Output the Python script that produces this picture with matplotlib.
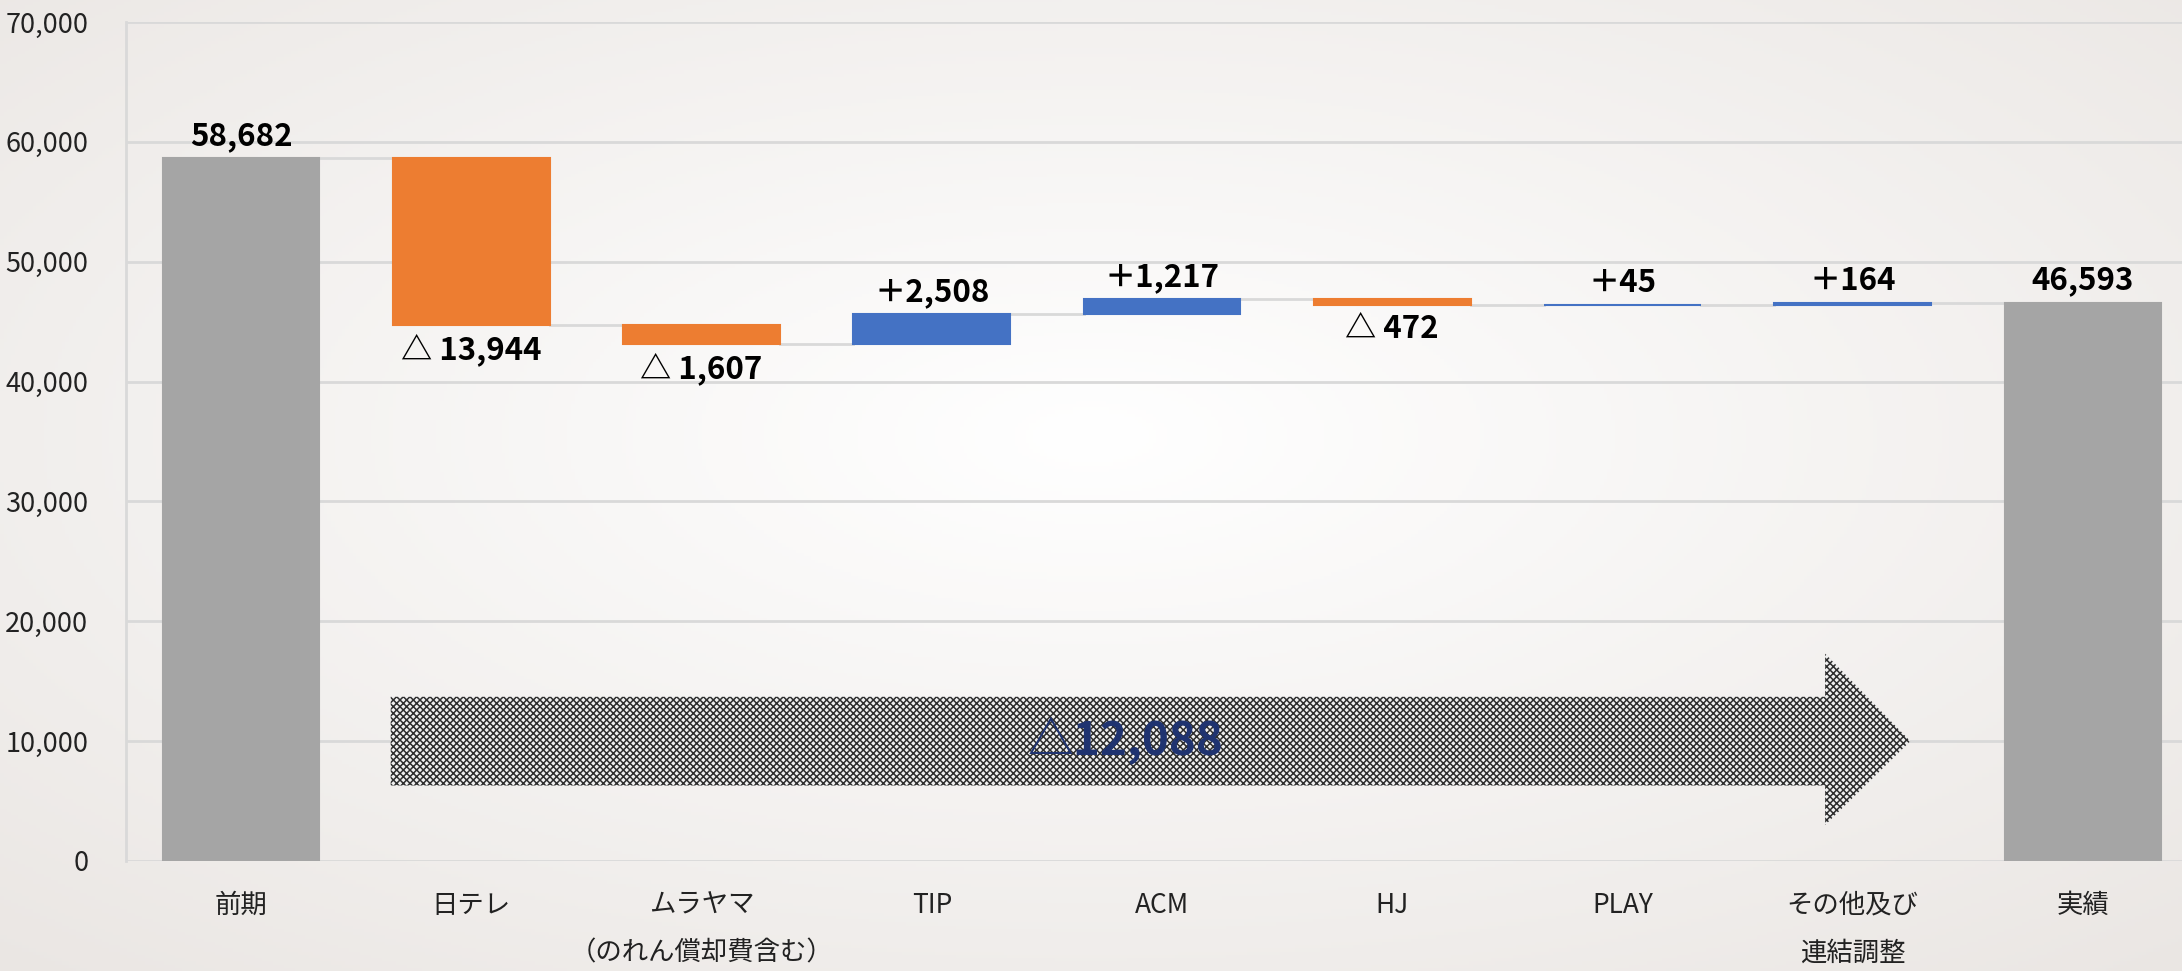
import numpy as np
import matplotlib
matplotlib.use('Agg')
import matplotlib.pyplot as plt
from matplotlib.patches import Polygon
from matplotlib.ticker import FuncFormatter

plt.rcParams['font.family'] = ['Noto Sans CJK JP', 'DejaVu Sans']
plt.rcParams['hatch.linewidth'] = 1.1

# ---- data ----
categories = ['前期', '日テレ', 'ムラヤマ\n（のれん償却費含む）', 'TIP', 'ACM', 'HJ', 'PLAY',
              'その他及び\n連結調整', '実績']
start_total = 58682
changes = [-13944, -1607, 2508, 1217, -472, 45, 164]
end_total = 46593
total_change_label = '△12,088'

c_total = '#A5A5A5'
c_down = '#ED7D31'
c_up = '#4472C4'

# waterfall geometry from the values
levels = [start_total]
for d in changes:
    levels.append(levels[-1] + d)
bottoms = [0] + [min(levels[i], levels[i + 1]) for i in range(len(changes))] + [0]
heights = [start_total] + [abs(d) for d in changes] + [end_total]
colors = [c_total] + [c_up if d > 0 else c_down for d in changes] + [c_total]
x = np.arange(len(categories))
w = 0.68

fig = plt.figure(figsize=(21.82, 9.71), dpi=100)

# soft radial background
bg = fig.add_axes([0, 0, 1, 1], zorder=0)
yy, xx = np.mgrid[0:1:300j, 0:1:600j]
r = np.sqrt(((xx - 0.5) / 0.75) ** 2 + ((yy - 0.45) / 0.75) ** 2)
r = np.clip(r, 0, 1)
edge = np.array([0.918, 0.902, 0.890])
img = (1 - r[..., None]) * np.array([1.0, 1.0, 1.0]) + r[..., None] * edge
bg.imshow(img, aspect='auto', extent=[0, 1, 0, 1])
bg.axis('off')

ax = fig.add_axes([0.0577, 0.1133, 0.9423, 0.864], zorder=1)
ax.patch.set_alpha(0)

ax.bar(x, heights, bottom=bottoms, width=w, color=colors, edgecolor=colors,
       linewidth=1.5, zorder=3)

# connectors
for i in range(len(categories) - 1):
    lvl = levels[i] if i < len(levels) else end_total
    ax.plot([x[i] + w / 2, x[i + 1] - w / 2], [lvl, lvl], color='#D9D9D9', lw=2, zorder=2)

# labels
ax.text(x[0], start_total + 500, f'{start_total:,}', ha='center', va='bottom',
        fontsize=22.5, fontweight='bold', zorder=4)
ax.text(x[-1], end_total + 500, f'{end_total:,}', ha='center', va='bottom',
        fontsize=22.5, fontweight='bold', zorder=4)
for i, d in enumerate(changes):
    xi = x[i + 1]
    if d < 0:
        ax.text(xi, bottoms[i + 1] - 700, f'△ {abs(d):,}', ha='center', va='top',
                fontsize=22.5, fontweight='bold', zorder=4)
    else:
        ax.text(xi, bottoms[i + 1] + heights[i + 1] + 500, f'＋{d:,}', ha='center', va='bottom',
                fontsize=22.5, fontweight='bold', zorder=4)

# overall-change arrow
tail, neck, tip = 0.65, 6.88, 7.25
body_lo, body_hi, head_lo, head_hi, mid = 6300, 13700, 3000, 17300, 10000
arrow = Polygon([(tail, body_lo), (neck, body_lo), (neck, head_lo), (tip, mid),
                 (neck, head_hi), (neck, body_hi), (tail, body_hi)],
                closed=True, facecolor='#F0F0F0', edgecolor='#2E2E2E', lw=0,
                hatch='xxxxx', zorder=3)
ax.add_patch(arrow)
ax.text(3.84, 10000, total_change_label, ha='center', va='center', fontsize=33,
        fontweight='bold', color='#1F3370', zorder=5)

# axes styling
ax.set_ylim(0, 70000)
ax.set_xlim(-0.5, 8.43)
ax.set_yticks(np.arange(0, 70001, 10000))
ax.yaxis.set_major_formatter(FuncFormatter(lambda v, p: f'{int(v):,}'))
ax.set_xticks(x)
ax.set_xticklabels(categories, linespacing=2.0, va='top')
ax.tick_params(axis='y', length=0, labelsize=19.5, pad=27, labelcolor='#222222')
ax.tick_params(axis='x', length=0, labelsize=19, pad=22, labelcolor='#222222')
ax.yaxis.grid(True, color='#D9D9D9', lw=2, zorder=0)
ax.set_axisbelow(True)
for s in ['top', 'right', 'bottom']:
    ax.spines[s].set_visible(False)
ax.spines['left'].set_color('#D9D9D9')
ax.spines['left'].set_linewidth(2)

fig.savefig('out.png', dpi=100)
